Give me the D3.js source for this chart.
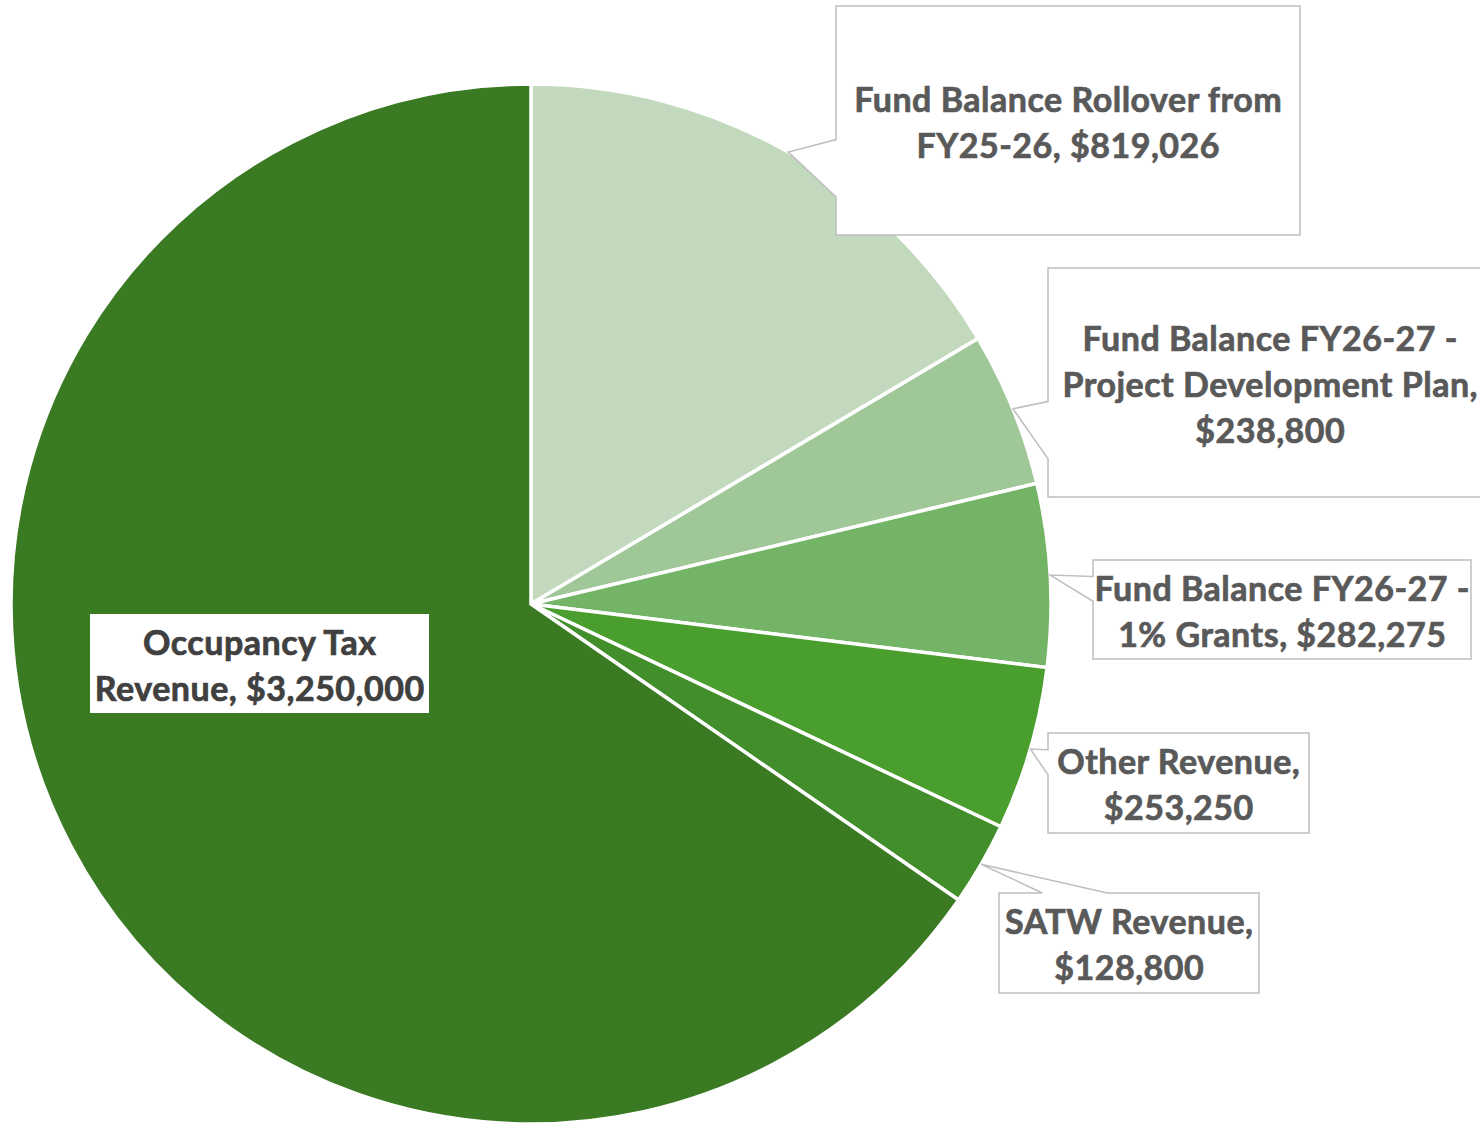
<!DOCTYPE html>
<html>
<head>
<meta charset="utf-8">
<script src="https://cdn.jsdelivr.net/npm/d3@7"></script>
<style>
  html, body { margin: 0; padding: 0; background: #ffffff; }
  svg { display: block; }
</style>
</head>
<body>
<script>
// ---- data ----
const categories = [
  "Fund Balance Rollover from FY25-26",
  "Fund Balance FY26-27 - Project Development Plan",
  "Fund Balance FY26-27 - 1% Grants",
  "Other Revenue",
  "SATW Revenue",
  "Occupancy Tax Revenue"
];
const values = [819026, 238800, 282275, 253250, 128800, 3250000];

// ---- styles / layout (not data) ----
const colors = ["#c3d9bd", "#a0c798", "#74b467", "#4a9e2d", "#428e2a", "#3a7a22"];
const labelBoxes = [
  { x: 836,  y: 6,   w: 464, h: 229, callout: true },
  { x: 1048, y: 268, w: 444, h: 229, callout: true },
  { x: 1093, y: 560, w: 378, h: 99,  callout: true },
  { x: 1048, y: 733, w: 261, h: 100, callout: true },
  { x: 999,  y: 893, w: 260, h: 100, callout: true },
  { x: 90,   y: 614, w: 339, h: 99,  callout: false }
];

const W = 1480, H = 1123;
const cx = 531, cy = 604, R = 520;
const fontFamily = "Lato, 'Open Sans', 'Liberation Sans', sans-serif";
const lineH = 46;
const fontSize = 34;
const letterSp = 0.5;

const svg = d3.select("body").append("svg")
  .attr("width", W).attr("height", H)
  .attr("viewBox", `0 0 ${W} ${H}`);

function measure(str) {
  const t = svg.append("text")
    .attr("font-family", fontFamily).attr("font-weight", 700)
    .attr("letter-spacing", letterSp)
    .attr("font-size", fontSize).text(str);
  const w = t.node().getComputedTextLength();
  t.remove();
  return w;
}
function wrap(str, maxW) {
  // keep a lone "-" attached to the preceding word
  const raw = str.split(" ");
  const words = [];
  raw.forEach(w => {
    if (w === "-" && words.length) words[words.length - 1] += " -";
    else words.push(w);
  });
  const lines = [];
  let cur = "";
  words.forEach(w => {
    const test = cur ? cur + " " + w : w;
    if (cur && measure(test) > maxW) { lines.push(cur); cur = w; }
    else cur = test;
  });
  if (cur) lines.push(cur);
  return lines;
}

const fmt = d3.format("$,");
const pie = d3.pie().sort(null).value(d => d).startAngle(0).endAngle(2 * Math.PI);
const arcs = pie(values);
const arc = d3.arc().innerRadius(0).outerRadius(R);
const edgeArc = d3.arc().innerRadius(R).outerRadius(R);

const g = svg.append("g").attr("transform", `translate(${cx},${cy})`);
g.selectAll("path.slice")
  .data(arcs)
  .join("path")
  .attr("class", "slice")
  .attr("d", arc)
  .attr("fill", (d, i) => colors[i])
  .attr("stroke", "#ffffff")
  .attr("stroke-width", 3.5)
  .attr("stroke-linejoin", "miter");

// wedge rectangle callout path (OOXML wedgeRectCallout geometry)
function calloutPath(b, tip) {
  const l = b.x, t = b.y, r = b.x + b.w, bt = b.y + b.h;
  const hc = b.x + b.w / 2, vc = b.y + b.h / 2;
  const dxPos = tip[0] - hc, dyPos = tip[1] - vc;
  const inside = tip[0] >= l && tip[0] <= r && tip[1] >= t && tip[1] <= bt;
  if (inside) return `M${l},${t}L${r},${t}L${r},${bt}L${l},${bt}Z`;
  const dx = dxPos * b.h, dy = dyPos * b.w;
  const x1 = l + b.w * (dxPos > 0 ? 7 : 2) / 12, x2 = l + b.w * (dxPos > 0 ? 10 : 5) / 12;
  const y1 = t + b.h * (dyPos > 0 ? 7 : 2) / 12, y2 = t + b.h * (dyPos > 0 ? 10 : 5) / 12;
  const T = `${tip[0]},${tip[1]}`;
  if (Math.abs(dy) > Math.abs(dx)) {
    if (dy < 0) return `M${l},${t}L${x1},${t}L${T}L${x2},${t}L${r},${t}L${r},${bt}L${l},${bt}Z`;
    return `M${l},${t}L${r},${t}L${r},${bt}L${x2},${bt}L${T}L${x1},${bt}L${l},${bt}Z`;
  } else {
    if (dx < 0) return `M${l},${t}L${r},${t}L${r},${bt}L${l},${bt}L${l},${y2}L${T}L${l},${y1}Z`;
    return `M${l},${t}L${r},${t}L${r},${y1}L${T}L${r},${y2}L${r},${bt}L${l},${bt}Z`;
  }
}

const labels = svg.append("g");
arcs.forEach((d, i) => {
  const b = labelBoxes[i];
  const c = edgeArc.centroid(d);
  const tip = [cx + c[0], cy + c[1]];
  const grp = labels.append("g");
  if (b.callout) {
    grp.append("path")
      .attr("d", calloutPath(b, tip))
      .attr("fill", "#ffffff")
      .attr("stroke", "#bfbfbf")
      .attr("stroke-width", 1.5)
      .attr("stroke-linejoin", "miter");
  } else {
    grp.append("rect")
      .attr("x", b.x).attr("y", b.y).attr("width", b.w).attr("height", b.h)
      .attr("fill", "#ffffff");
  }
  const text = categories[i] + ", " + fmt(values[i]);
  const lines = wrap(text, b.w - 2);
  const midY = b.y + b.h / 2 + 2;
  const capHalf = fontSize * 0.72 / 2;
  const col = b.callout ? "#595959" : "#404040";
  grp.selectAll("text")
    .data(lines)
    .join("text")
    .attr("x", b.x + b.w / 2 + letterSp / 2)
    .attr("y", (s, k) => midY + (k - (lines.length - 1) / 2) * lineH + capHalf)
    .attr("text-anchor", "middle")
    .attr("font-family", fontFamily)
    .attr("font-weight", 700)
    .attr("font-size", fontSize)
    .attr("letter-spacing", letterSp)
    .attr("fill", col)
    .attr("stroke", col)
    .attr("stroke-width", 0.7)
    .attr("paint-order", "stroke")
    .text(s => s);
});
</script>
</body>
</html>
